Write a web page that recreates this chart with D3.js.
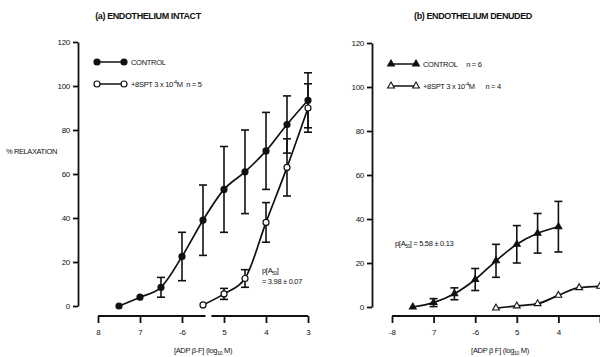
<!DOCTYPE html>
<html>
<head>
<meta charset="utf-8">
<script src="https://cdn.jsdelivr.net/npm/d3@7"></script>
<style>
  body { margin: 0; background: #fff; }
  svg { display: block; font-family: "Liberation Sans", Arial, sans-serif; }
  svg text { white-space: pre; fill: #111; }
  .axis path, .axis line { stroke: #111; stroke-width: 1.8; }
  .axis text { font-size: 8px; fill: #111; }
</style>
</head>
<body>
<div id="chart"></div>
<script>
// log10 molar concentration of ADP beta-F
const doseA = [-7.5, -7, -6.5, -6, -5.5, -5, -4.5, -4, -3.5, -3]
const controlA = [0, 4, 8.5, 22.5, 39, 53, 61, 70.5, 82.5, 93.5]
const controlAErr = [0, 0, 4.5, 11, 16, 19.5, 19, 17.5, 13, 12.5]
const doseSptA = [-5.5, -5, -4.5, -4, -3.5, -3]
const sptA = [0.5, 5.5, 12.5, 38, 63, 90]
const sptAErr = [0, 2.5, 4, 9, 13, 11]

const doseB = [-7.5, -7, -6.5, -6, -5.5, -5, -4.5, -4]
const controlB = [0, 2, 6, 12.5, 21, 28.5, 33.5, 36.5]
const controlBErr = [0, 1.8, 2.7, 5, 7.5, 8.5, 9, 11.5]
const doseSptB = [-5.5, -5, -4.5, -4, -3.5, -3]
const sptB = [-0.5, 0.5, 1.5, 5.3, 8.8, 9.4]

const yTicks = [0, 20, 40, 60, 80, 100, 120]
const xTicks = [-8, -7, -6, -5, -4, -3]
const xTickLabelsA = ['8', '7', '-6', '5', '4', '3']
const xTickLabelsB = ['-8', '7', '-6', '5', '4', '']

const W = 600, H = 357
const svg = d3.select('#chart').append('svg').attr('width', W).attr('height', H)

const panels = [
  {
    title: '(a) ENDOTHELIUM INTACT', titleX: 148,
    x: d3.scaleLinear().domain([-8, -3]).range([98, 308]),
    y: d3.scaleLinear().domain([0, 120]).range([306, 42]),
    axisX: 78, tickLabels: xTickLabelsA, xBreak: [-5.44, -5.3],
    xTitle: '[ADP \u03B2-F] (log', xTitleX: 203,
    series: [
      {dose: doseA, val: controlA, err: controlAErr, shape: 'circle', fill: '#111'},
      {dose: doseSptA, val: sptA, err: sptAErr, shape: 'circle', fill: '#fff'}
    ],
    legend: [
      {shape: 'circle', fill: '#111', text: ['CONTROL', '', ''], y: 62},
      {shape: 'circle', fill: '#fff', text: ['+8SPT 3 x 10', '-4', 'M  n = 5'], y: 84}
    ],
    legendX: [97, 124]
  },
  {
    title: '(b) ENDOTHELIUM DENUDED', titleX: 473,
    x: d3.scaleLinear().domain([-8, -3]).range([392, 600]),
    y: d3.scaleLinear().domain([0, 120]).range([307, 43]),
    axisX: 372, tickLabels: xTickLabelsB, xBreak: null,
    xTitle: '[ADP \u03B2 F] (log', xTitleX: 500,
    series: [
      {dose: doseB, val: controlB, err: controlBErr, shape: 'triangle', fill: '#111'},
      {dose: doseSptB, val: sptB, err: null, shape: 'triangle', fill: '#fff'}
    ],
    legend: [
      {shape: 'triangle', fill: '#111', text: ['CONTROL     n = 6', '', ''], y: 64},
      {shape: 'triangle', fill: '#fff', text: ['+8SPT 3 x 10', '-4', 'M      n = 4'], y: 86}
    ],
    legendX: [391, 416]
  }
]

const tri = d3.symbol().type(d3.symbolTriangle).size(20)

function marker (g, shape, fill, cx, cy) {
  if (shape === 'circle') {
    g.append('circle').attr('cx', cx).attr('cy', cy).attr('r', 3)
      .attr('fill', fill).attr('stroke', '#111').attr('stroke-width', 1.2)
  } else {
    g.append('path').attr('d', tri).attr('transform', `translate(${cx},${cy})`)
      .attr('fill', fill).attr('stroke', '#111').attr('stroke-width', 1.1)
  }
}

panels.forEach(p => {
  const g = svg.append('g')

  g.append('text').text(p.title)
    .attr('x', p.titleX).attr('y', 19).attr('text-anchor', 'middle')
    .attr('font-size', 9).attr('font-weight', 'bold').attr('letter-spacing', -0.4)

  // y axis
  g.append('g').attr('class', 'axis')
    .attr('transform', `translate(${p.axisX},0)`)
    .call(d3.axisLeft(p.y).tickValues(yTicks).tickSize(5).tickSizeOuter(0).tickPadding(3))
    .call(a => a.selectAll('text').attr('letter-spacing', -0.3))

  // x axis, domain redrawn below so it can be broken
  const xAxisY = 316
  g.append('g').attr('class', 'axis')
    .attr('transform', `translate(0,${xAxisY})`)
    .call(d3.axisBottom(p.x).tickValues(xTicks).tickFormat((d, i) => p.tickLabels[i]).tickSize(7).tickPadding(6))
    .call(a => a.select('.domain').remove())

  const segs = p.xBreak ? [[-8, p.xBreak[0]], [p.xBreak[1], -3]] : [[-8, -3]]
  segs.forEach(s => {
    g.append('line').attr('x1', p.x(s[0])).attr('x2', p.x(s[1]))
      .attr('y1', xAxisY).attr('y2', xAxisY)
      .attr('stroke', '#111').attr('stroke-width', 1.8)
  })

  const xt = g.append('text').attr('x', p.xTitleX).attr('y', 353)
    .attr('text-anchor', 'middle').attr('font-size', 7.5).attr('letter-spacing', -0.3)
  xt.append('tspan').text(p.xTitle)
  xt.append('tspan').text('10').attr('font-size', 5).attr('dy', 2)
  xt.append('tspan').text(' M)').attr('dy', -2)

  const line = d3.line()
    .x(d => p.x(d[0]))
    .y(d => p.y(d[1]))
    .curve(d3.curveMonotoneX)

  p.series.forEach(s => {
    const pts = s.dose.map((d, i) => [d, s.val[i]])
    g.append('path').attr('d', line(pts))
      .attr('fill', 'none').attr('stroke', '#111').attr('stroke-width', 1.7)

    if (s.err) {
      s.dose.forEach((d, i) => {
        const e = s.err[i]
        if (!e || e < 1.5) return
        const cx = p.x(d)
        const y1 = p.y(s.val[i] + e), y2 = p.y(s.val[i] - e)
        g.append('line').attr('x1', cx).attr('x2', cx).attr('y1', y1).attr('y2', y2)
          .attr('stroke', '#111').attr('stroke-width', 1.6)
        ;[y1, y2].forEach(yy => {
          g.append('line').attr('x1', cx - 4).attr('x2', cx + 4).attr('y1', yy).attr('y2', yy)
            .attr('stroke', '#111').attr('stroke-width', 1.6)
        })
      })
    }
    pts.forEach(d => marker(g, s.shape, s.fill, p.x(d[0]), p.y(d[1])))
  })

  // legend
  p.legend.forEach(l => {
    g.append('line').attr('x1', p.legendX[0]).attr('x2', p.legendX[1])
      .attr('y1', l.y).attr('y2', l.y).attr('stroke', '#111').attr('stroke-width', 1.5)
    marker(g, l.shape, l.fill, p.legendX[0], l.y)
    marker(g, l.shape, l.fill, p.legendX[1], l.y)
    const t = g.append('text').attr('x', p.legendX[1] + 7).attr('y', l.y + 3)
      .attr('font-size', 7.5).attr('letter-spacing', -0.3)
    t.append('tspan').text(l.text[0])
    if (l.text[1]) {
      t.append('tspan').text(l.text[1]).attr('font-size', 5).attr('dy', -3)
      t.append('tspan').text(l.text[2]).attr('dy', 3)
    }
  })
})

// y label
svg.append('text').text('% RELAXATION').attr('x', 6).attr('y', 154)
  .attr('font-size', 7.5).attr('letter-spacing', -0.4)

// pA50 annotations
const a1 = svg.append('text').attr('x', 262).attr('y', 273).attr('font-size', 7.5).attr('letter-spacing', -0.3)
a1.append('tspan').text('p[A')
a1.append('tspan').text('50').attr('font-size', 4.5).attr('dy', 2)
a1.append('tspan').text(']').attr('dy', -2)
svg.append('text').text('= 3.98 \u00B1 0.07').attr('x', 262).attr('y', 284)
  .attr('font-size', 7.5).attr('letter-spacing', -0.3)

const a2 = svg.append('text').attr('x', 395).attr('y', 246).attr('font-size', 7.5).attr('letter-spacing', -0.3)
a2.append('tspan').text('p[A')
a2.append('tspan').text('50').attr('font-size', 4.5).attr('dy', 2)
a2.append('tspan').text('] = 5.58 \u00B1 0.13').attr('dy', -2)
</script>
</body>
</html>
